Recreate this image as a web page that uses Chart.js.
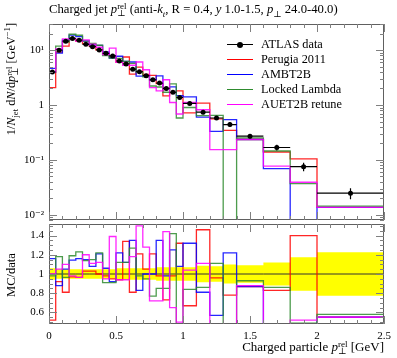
<!DOCTYPE html>
<html><head><meta charset="utf-8">
<script src="https://cdn.jsdelivr.net/npm/chart.js@4/dist/chart.umd.min.js"></script>
<style>
body{margin:0;background:#fff;}
#wrap{position:relative;width:397px;height:358px;overflow:hidden;font-family:'Liberation Serif','DejaVu Serif',serif;color:#000;}
canvas{position:absolute;left:0;}
.t{position:absolute;white-space:nowrap;}
.ss{display:inline-block;vertical-align:-0.32em;line-height:0.72em;font-size:0.7em;text-align:left;}
.ss span{display:block;}
sub,sup{font-size:0.7em;line-height:0;}
.lg{position:absolute;left:261px;font-size:12.3px;line-height:14px;white-space:nowrap;}
.ll{position:absolute;left:227px;width:26px;height:0;border-top-style:solid;border-top-width:1.3px;}
</style></head>
<body>
<div id="wrap">
<canvas id="main" width="397" height="224" style="top:0"></canvas>
<canvas id="ratio" width="397" height="134" style="top:224px"></canvas>

<div class="t" style="left:49px;top:2px;font-size:12.7px;line-height:14px;">Charged jet <i>p</i><span class="ss"><span>rel</span><span>⊥</span></span> (anti-<i>k</i><sub><i>t</i></sub>, R = 0.4, <i>y</i> 1.0-1.5, <i>p</i><sub>⊥</sub> 24.0-40.0)</div>

<div class="t" style="left:4px;top:223px;width:200px;text-align:right;font-size:12.3px;line-height:14px;transform:rotate(-90deg);transform-origin:left top;">1/<i>N</i><sub>jet</sub> d<i>N</i>/d<i>p</i><span class="ss"><span>rel</span><span>⊥</span></span> [GeV<sup>−1</sup>]</div>
<div class="t" style="left:4px;top:325px;width:100px;text-align:center;font-size:12.5px;line-height:14px;transform:rotate(-90deg);transform-origin:left top;">MC/data</div>
<div class="t" style="right:13px;top:340px;font-size:13px;line-height:14px;">Charged particle <i>p</i><span class="ss"><span>rel</span><span>⊥</span></span> [GeV]</div>

<div class="ll" style="top:44px;border-top-color:#000;"></div>
<div style="position:absolute;left:237px;top:41.5px;width:6px;height:6px;border-radius:3px;background:#000;"></div>
<div class="lg" style="top:37px;">ATLAS data</div>
<div class="ll" style="top:59px;border-top-color:#ff0000;"></div>
<div class="lg" style="top:52px;">Perugia 2011</div>
<div class="ll" style="top:74px;border-top-color:#0000ff;"></div>
<div class="lg" style="top:67px;">AMBT2B</div>
<div class="ll" style="top:89px;border-top-color:#2e8b2e;"></div>
<div class="lg" style="top:82px;">Locked Lambda</div>
<div class="ll" style="top:104px;border-top-color:#ff00ff;"></div>
<div class="lg" style="top:97px;">AUET2B retune</div>
</div>

<script>
// ---- data ----
const binEdges = [0,0.05,0.1,0.15,0.2,0.25,0.3,0.35,0.4,0.45,0.5,0.55,0.6,0.65,0.7,0.75,0.8,0.85,0.9,0.95,1.0,1.1,1.2,1.3,1.4,1.6,1.8,2.0,2.5];
const atlasData = [4.0,10.0,14.6,16.4,15.2,12.8,11.6,10.1,8.75,7.85,6.35,5.6,4.5,4.05,3.43,2.88,2.51,2.01,1.71,1.37,1.07,0.74,0.58,0.44,0.27,0.168,0.075,0.0247];
const atlasRelErr = [0.06,0.05,0.05,0.05,0.05,0.05,0.05,0.05,0.05,0.05,0.06,0.06,0.06,0.06,0.06,0.06,0.07,0.07,0.07,0.07,0.07,0.085,0.08,0.10,0.09,0.12,0.175,0.225];

const perugia2011 = [2.08,9.2,11.8,15.9,14.7,13.2,11.9,10.1,8.6,7.45,5.97,7.5,3.65,4.9,3.6,3.48,2.46,1.47,1.68,1.81,0.72,1.08,0.56,0.345,0.235,0.139,0.104,0.0136];
const ambt2b = [4.64,8.8,15.3,18.8,17.6,14.7,12.5,12.2,9.3,7.2,7.75,6.27,6.08,3.36,3.43,2.88,3.39,1.97,2.14,1.48,1.41,0.60,0.33,0.54,0.235,0.069,0,0.0136];
const lockedLambda = [3.92,11.8,14.1,19.5,18.7,14.6,13.3,12.3,7.96,7.14,7.11,6.27,5.72,3.97,3.26,2.22,2.13,1.71,2.43,0.58,0.90,0.64,0.645,0,0.25,0.145,0.037,0.0143];
const auet2bRetune = [4.0,10.5,16.1,16.1,14.7,15.4,12.9,11.3,8.3,10.9,5.97,5.26,5.31,6.08,4.39,2.07,1.81,2.89,1.11,0.685,1.11,0.82,0.153,0.153,0.237,0.077,0.039,0.0136];

const perugia2011Ratio = [0.52,0.92,0.81,0.97,0.965,1.03,1.03,1.0,0.98,0.95,0.94,1.34,0.81,1.21,1.05,1.21,0.98,0.73,0.98,1.32,0.67,1.46,0.96,0.78,0.87,0.83,1.40,0.55];
const ambt2bRatio = [1.16,0.88,1.05,1.145,1.16,1.15,1.08,1.21,1.06,0.92,1.22,1.12,1.35,0.83,1.0,1.0,1.35,0.98,1.25,1.08,1.32,0.81,0.57,1.22,0.87,0.41,0,0.55];
const lockedLambdaRatio = [0.98,1.18,0.965,1.19,1.23,1.14,1.15,1.22,0.91,0.91,1.12,1.12,1.27,0.98,0.95,0.77,0.85,0.85,1.42,0.42,0.84,0.86,1.11,0,0.93,0.86,0.49,0.58];
const auet2bRetuneRatio = [1.0,1.05,1.10,0.98,0.965,1.2,1.11,1.12,0.95,1.39,0.94,0.94,1.18,1.5,1.28,0.72,0.72,1.44,0.65,0.5,1.04,1.11,0.26,0.35,0.88,0.46,0.52,0.55];

const xTickValues = [0,0.5,1,1.5,2,2.5];
const mainYTickValues = [0.01,0.1,1,10];
const mainYTickLabels = ['10⁻²','10⁻¹','1','10¹'];
const ratioYTickValues = [0.6,0.8,1,1.2,1.4];

// ---- styling ----
const FONT = "'Liberation Serif','DejaVu Serif',serif";
const COL = {red:'rgba(255,0,0,0.85)', blue:'rgba(0,0,255,0.85)', green:'rgba(46,139,46,0.85)', mag:'rgba(255,0,255,0.85)'};
const FRAME = '#606060';

function steps(vals, floorVal){
  return binEdges.map((e,i)=>{
    let v = vals[Math.min(i, vals.length-1)];
    if (floorVal !== undefined && v <= 0) v = floorVal;
    return {x:e, y:v};
  });
}
function lineDs(label, vals, color, order, floorVal){
  return {label, data: steps(vals, floorVal), borderColor: color, borderWidth: 1.3,
          pointRadius: 0, stepped: true, fill: false, order, tension: 0};
}
const centers = binEdges.slice(0,-1).map((e,i)=>(e+binEdges[i+1])/2);

function framePlugin(kind){
  return {
    id: 'frame_'+kind,
    afterDraw(chart){
      const {ctx, chartArea:a, scales} = chart;
      const x = scales.x, y = scales.y;
      ctx.save();
      ctx.strokeStyle = FRAME; ctx.lineWidth = 1;
      ctx.beginPath();
      ctx.rect(a.left+0.5, a.top+0.5, a.right-a.left-1, a.bottom-a.top-1);
      ctx.stroke();
      ctx.strokeStyle = '#808080';
      ctx.beginPath();
      for (let k=0;k<=25;k++){
        const v = k/10;
        const px = Math.round(x.getPixelForValue(v))+0.5;
        const L = (k%5===0)?8:4;
        ctx.moveTo(px, a.top); ctx.lineTo(px, a.top+L);
        ctx.moveTo(px, a.bottom); ctx.lineTo(px, a.bottom-L);
      }
      const yt = [];
      if (kind==='main'){
        for (let d=-3; d<=1; d++){
          for (let m=1;m<=9;m++){
            const v = m*Math.pow(10,d);
            if (v>=y.min && v<=y.max) yt.push([v, m===1?8:4]);
          }
        }
      } else {
        for (let k=10;k<=30;k++){
          const v = k*0.05;
          if (v>=y.min && v<=y.max) yt.push([v, (k%4===0)?8:4]);
        }
      }
      yt.forEach(([v,L])=>{
        const py = Math.round(y.getPixelForValue(v))+0.5;
        ctx.moveTo(a.left, py); ctx.lineTo(a.left+L, py);
        ctx.moveTo(a.right, py); ctx.lineTo(a.right-L, py);
      });
      ctx.stroke();
      ctx.restore();
    }
  };
}

const errPlugin = {
  id: 'errbars',
  afterDatasetsDraw(chart){
    const {ctx, chartArea:a, scales:{x,y}} = chart;
    ctx.save();
    ctx.beginPath(); ctx.rect(a.left, a.top, a.right-a.left, a.bottom-a.top); ctx.clip();
    ctx.strokeStyle = '#000'; ctx.lineWidth = 1.2;
    ctx.beginPath();
    atlasData.forEach((v,i)=>{
      const x0 = x.getPixelForValue(binEdges[i]), x1 = x.getPixelForValue(binEdges[i+1]);
      const xc = x.getPixelForValue(centers[i]);
      const yc = y.getPixelForValue(v);
      ctx.moveTo(x0, yc); ctx.lineTo(x1, yc);
      ctx.moveTo(xc, y.getPixelForValue(v*(1+atlasRelErr[i])));
      ctx.lineTo(xc, y.getPixelForValue(v*(1-atlasRelErr[i])));
    });
    ctx.stroke();
    ctx.restore();
  }
};

const common = {responsive:false, animation:false, events:[],
  plugins:{legend:{display:false}, tooltip:{enabled:false}}};

new Chart(document.getElementById('main'), {
  type:'line',
  data:{datasets:[
    {label:'ATLAS data', data: centers.map((c,i)=>({x:c, y:atlasData[i]})), showLine:false,
     pointRadius:2.5, pointBackgroundColor:'#000', pointBorderColor:'#000', pointBorderWidth:0, order:0},
    lineDs('Perugia 2011', perugia2011, COL.red, 4, 1e-5),
    lineDs('AMBT2B', ambt2b, COL.blue, 3, 1e-5),
    lineDs('Locked Lambda', lockedLambda, COL.green, 2, 1e-5),
    lineDs('AUET2B retune', auet2bRetune, COL.mag, 1, 1e-5)
  ]},
  options:Object.assign({}, common, {
    layout:{padding:{left:0,right:13,top:24,bottom:0}},
    scales:{
      x:{type:'linear', min:0, max:2.5, display:false},
      y:{type:'logarithmic', min:0.008, max:30,
         grid:{display:false, drawTicks:false}, border:{display:false},
         ticks:{padding:5, color:'#000', font:{family:FONT, size:11},
                callback:(v)=>{const i=mainYTickValues.indexOf(v); return i>=0?mainYTickLabels[i]:'';}},
         afterBuildTicks:(s)=>{ s.ticks = mainYTickValues.map(v=>({value:v})); },
         afterFit:(s)=>{ s.width = 49; s.paddingTop = 0; s.paddingBottom = 0; }
      }
    }
  }),
  plugins:[errPlugin, framePlugin('main')]
});

new Chart(document.getElementById('ratio'), {
  type:'line',
  data:{datasets:[
    lineDs('Perugia 2011', perugia2011Ratio, COL.red, 4),
    lineDs('AMBT2B', ambt2bRatio, COL.blue, 3),
    lineDs('Locked Lambda', lockedLambdaRatio, COL.green, 2),
    lineDs('AUET2B retune', auet2bRetuneRatio, COL.mag, 1),
    {label:'data', data: steps(atlasData.map(()=>1)), borderColor:'#333', borderWidth:1, pointRadius:0, stepped:true, fill:false, order:10},
    {label:'band up', data: steps(atlasRelErr.map(e=>1+e)), borderWidth:0, borderColor:'rgba(0,0,0,0)', pointRadius:0, stepped:true, fill:'+1', backgroundColor:'#ffff00', order:20},
    {label:'band down', data: steps(atlasRelErr.map(e=>1-e)), borderWidth:0, borderColor:'rgba(0,0,0,0)', pointRadius:0, stepped:true, fill:false, order:21}
  ]},
  options:Object.assign({}, common, {
    layout:{padding:{left:0,right:13,top:0,bottom:0}},
    scales:{
      x:{type:'linear', min:0, max:2.5,
         grid:{display:false, drawTicks:false}, border:{display:false},
         ticks:{padding:6, color:'#000', font:{family:FONT, size:11}, maxRotation:0, autoSkip:false,
                callback:(v)=>String(v)},
         afterBuildTicks:(s)=>{ s.ticks = xTickValues.map(v=>({value:v})); },
         afterFit:(s)=>{ s.height = 34; s.paddingLeft = 0; s.paddingRight = 0; }
      },
      y:{type:'linear', min:0.48, max:1.52,
         grid:{display:false, drawTicks:false}, border:{display:false},
         ticks:{padding:5, color:'#000', font:{family:FONT, size:11},
                callback:(v)=>String(Number(v.toFixed(1)))},
         afterBuildTicks:(s)=>{ s.ticks = ratioYTickValues.map(v=>({value:v})); },
         afterFit:(s)=>{ s.width = 49; s.paddingTop = 0; s.paddingBottom = 0; }
      }
    }
  }),
  plugins:[framePlugin('ratio')]
});
</script>
</body></html>
